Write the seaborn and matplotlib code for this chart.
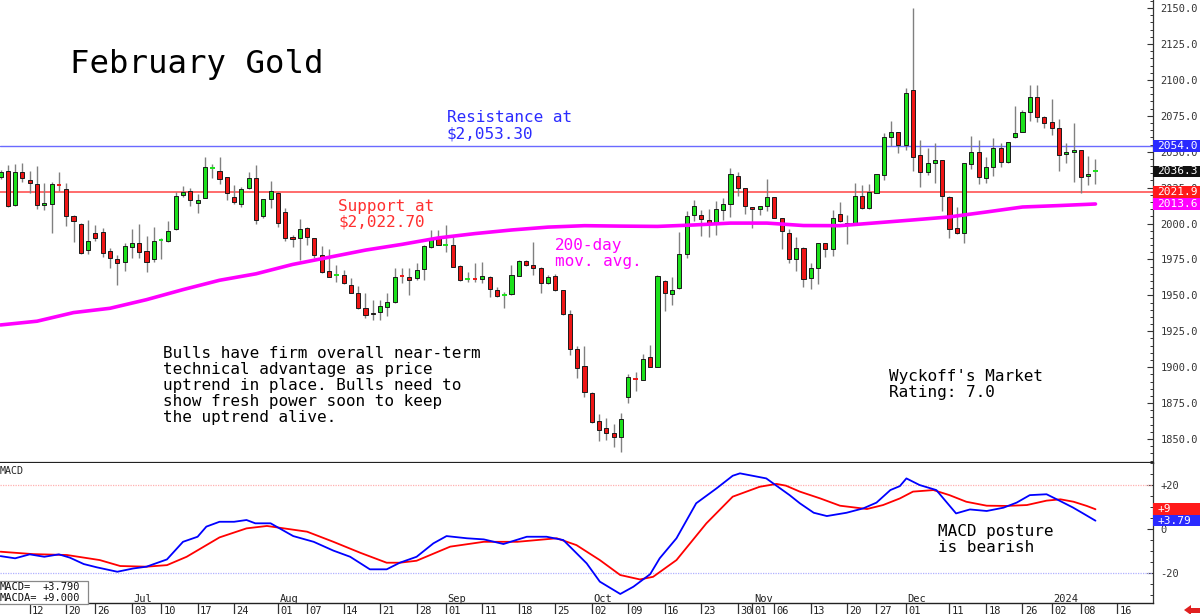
import numpy as np
import matplotlib
matplotlib.use("Agg")
import matplotlib.pyplot as plt
import matplotlib.transforms as mtransforms
from matplotlib.patches import Rectangle, Polygon
from matplotlib.ticker import MultipleLocator, FixedLocator
import seaborn as sns

# ---------------- data ----------------
opens = [2032.2, 2036.8, 2012.9, 2036.1, 2030.3, 2027.8, 2013.2, 2013.6, 2027.5, 2023.8,
         2005.5, 2000.0, 1981.6, 1993.7, 1994.4, 1980.9, 1975.1, 1973.5, 1983.9, 1986.2,
         1980.9, 1975.1, 1987.8, 1988.1, 1996.0, 2019.9, 2022.7, 2014.1, 2018.0, 2038.3,
         2036.8, 2032.2, 2018.7, 2013.6, 2024.5, 2031.5, 2005.5, 2017.4, 2021.5, 2007.8,
         1990.9, 1989.7, 1996.7, 1989.7, 1978.1, 1967.2, 1964.0, 1964.2, 1957.2, 1951.9,
         1941.4, 1938.0, 1938.2, 1942.1, 1945.2, 1963.8, 1963.0, 1961.9, 1968.1, 1983.9,
         1990.4, 1985.0, 1985.1, 1970.4, 1961.2, 1962.0, 1961.4, 1963.0, 1953.7, 1950.1,
         1950.9, 1963.7, 1973.9, 1971.1, 1969.3, 1958.4, 1963.7, 1953.7, 1937.1, 1912.5,
         1901.1, 1882.3, 1862.8, 1857.5, 1854.0, 1851.7, 1879.1, 1892.5, 1891.1, 1906.9,
         1900.4, 1960.3, 1950.7, 1954.9, 1978.6, 2005.9, 2006.0, 2002.5, 2000.1, 2009.4,
         2013.6, 2033.1, 2024.9, 2011.7, 2010.1, 2012.4, 2018.2, 2003.6, 1993.6, 1975.1,
         1983.2, 1962.3, 1968.8, 1986.2, 1982.3, 2006.4, 2000.6, 1999.0, 2019.1, 2010.6,
         2021.5, 2033.8, 2060.5, 2063.9, 2054.7, 2092.9, 2047.7, 2036.1, 2041.9, 2044.2,
         2018.7, 1996.7, 1993.6, 2041.4, 2050.0, 2031.5, 2039.6, 2052.3, 2043.1, 2060.0,
         2063.9, 2077.9, 2087.8, 2074.4, 2070.9, 2066.3, 2048.4, 2050.0, 2051.2, 2033.1,
         2035.9]
highs = [2037.0, 2040.8, 2041.2, 2042.4, 2036.8, 2040.3, 2028.0, 2028.7, 2035.7, 2028.0,
         2006.0, 2000.5, 2002.5, 1999.0, 1997.1, 1982.8, 1978.1, 1986.2, 1996.0, 1999.7,
         1991.3, 1997.4, 1989.7, 2001.8, 2022.2, 2026.1, 2025.0, 2020.3, 2046.1, 2041.5,
         2046.6, 2032.4, 2026.8, 2025.7, 2035.7, 2040.8, 2017.0, 2029.9, 2022.2, 2010.6,
         1992.0, 2002.9, 1997.8, 1990.0, 1984.4, 1982.0, 1971.1, 1967.7, 1961.9, 1956.5,
         1951.4, 1946.8, 1946.8, 1951.4, 1968.8, 1968.8, 1968.8, 1972.3, 1985.1, 1995.5,
         1995.5, 1999.0, 1990.9, 1971.0, 1966.0, 1972.3, 1973.0, 1963.5, 1956.1, 1952.6,
         1971.1, 1974.5, 1974.6, 1987.4, 1969.5, 1964.2, 1964.6, 1954.0, 1939.8, 1914.8,
         1914.8, 1882.5, 1867.2, 1864.4, 1860.5, 1867.9, 1895.3, 1896.9, 1909.2, 1915.5,
         1964.2, 1960.5, 1962.6, 1993.9, 2009.0, 2016.5, 2009.4, 2010.0, 2016.0, 2017.5,
         2038.4, 2036.1, 2025.0, 2011.7, 2012.5, 2030.7, 2018.5, 2004.0, 1996.0, 1990.4,
         1983.5, 1972.3, 1986.5, 1986.5, 2009.4, 2015.2, 2005.9, 2028.4, 2026.8, 2027.5,
         2034.5, 2062.8, 2071.6, 2064.0, 2094.1, 2150.0, 2058.1, 2052.3, 2056.3, 2044.5,
         2019.0, 2011.3, 2042.0, 2060.9, 2058.1, 2046.5, 2059.3, 2055.8, 2056.8, 2081.8,
         2079.0, 2096.4, 2096.4, 2074.8, 2086.4, 2072.5, 2056.3, 2069.7, 2051.5, 2047.0,
         2044.7]
lows = [2031.0, 2011.8, 2012.5, 2028.7, 2021.0, 2009.9, 2009.4, 1993.2, 2022.9, 1998.3,
        1987.0, 1979.0, 1978.6, 1988.0, 1977.0, 1968.8, 1957.2, 1967.2, 1976.3, 1976.3,
        1966.1, 1973.0, 1975.3, 1987.4, 1995.8, 2018.7, 2012.2, 2007.1, 2017.8, 2031.5,
        2027.3, 2016.4, 2013.6, 2011.8, 2024.0, 1999.7, 2004.1, 2010.6, 1997.4, 1988.1,
        1984.0, 1974.6, 1985.1, 1976.0, 1965.8, 1962.8, 1959.5, 1958.0, 1951.5, 1940.5,
        1934.0, 1932.9, 1932.9, 1935.6, 1945.0, 1958.4, 1950.3, 1960.7, 1960.7, 1982.7,
        1985.0, 1980.4, 1969.9, 1960.0, 1959.5, 1959.5, 1958.4, 1948.6, 1948.6, 1941.0,
        1950.3, 1963.5, 1970.5, 1964.2, 1951.4, 1958.0, 1953.0, 1936.4, 1908.5, 1892.3,
        1879.5, 1861.0, 1848.9, 1849.4, 1844.3, 1841.3, 1875.4, 1883.7, 1891.0, 1900.0,
        1900.0, 1939.4, 1943.3, 1954.6, 1975.8, 2002.0, 1991.6, 1990.9, 1992.0, 2002.4,
        2004.8, 2019.1, 2006.6, 1996.6, 2005.9, 2008.9, 2004.0, 1982.0, 1972.3, 1966.9,
        1955.6, 1954.2, 1957.9, 1976.9, 1977.6, 2001.3, 1985.7, 1999.0, 2009.9, 2009.9,
        2021.0, 2030.3, 2053.9, 2049.3, 2051.2, 2036.8, 2025.7, 2033.8, 2028.0, 2009.0,
        1989.7, 1993.0, 1986.2, 2037.7, 2027.5, 2028.0, 2033.1, 2039.1, 2041.9, 2059.3,
        2063.5, 2071.6, 2070.9, 2066.3, 2061.6, 2036.8, 2041.9, 2029.1, 2021.0, 2026.8,
        2027.5]
closes = [2035.7, 2012.5, 2036.1, 2031.7, 2028.0, 2012.9, 2014.3, 2027.3, 2027.0, 2005.5,
          2002.0, 1979.7, 1987.9, 1989.7, 1979.3, 1976.3, 1972.8, 1984.6, 1986.2, 1980.4,
          1973.5, 1987.6, 1988.2, 1994.8, 2019.2, 2022.2, 2016.4, 2016.4, 2039.6, 2038.6,
          2031.0, 2021.5, 2014.8, 2023.8, 2031.5, 2002.5, 2016.9, 2022.9, 2000.6, 1989.7,
          1989.0, 1996.0, 1990.4, 1978.1, 1966.5, 1963.0, 1964.3, 1958.4, 1951.9, 1941.0,
          1936.3, 1937.0, 1942.8, 1945.1, 1963.0, 1963.3, 1960.7, 1967.7, 1984.4, 1989.2,
          1985.1, 1985.3, 1970.0, 1960.7, 1961.5, 1961.6, 1963.7, 1954.2, 1949.8, 1950.5,
          1964.2, 1973.9, 1971.1, 1968.8, 1958.4, 1963.0, 1953.7, 1937.1, 1912.5, 1899.7,
          1882.5, 1862.1, 1856.3, 1854.0, 1851.7, 1863.7, 1893.0, 1892.1, 1905.5, 1900.4,
          1963.5, 1951.4, 1953.8, 1978.8, 2005.3, 2012.5, 2003.2, 2000.6, 2009.9, 2013.6,
          2034.5, 2024.9, 2012.2, 2010.1, 2012.4, 2018.7, 2004.1, 1995.0, 1975.1, 1983.2,
          1961.1, 1969.3, 1986.2, 1982.0, 2003.6, 2002.0, 1999.0, 2019.1, 2010.6, 2022.2,
          2034.2, 2060.5, 2063.9, 2054.7, 2090.6, 2046.5, 2036.1, 2041.9, 2044.2, 2019.2,
          1995.9, 1993.6, 2041.9, 2050.0, 2032.2, 2039.6, 2052.3, 2043.1, 2056.5, 2063.2,
          2077.9, 2087.8, 2073.9, 2070.2, 2066.3, 2047.7, 2050.0, 2051.2, 2032.6, 2034.5,
          2036.3]

# 200-day moving average, read at every 5th session
ma_x = [0, 5, 10, 15, 20, 25, 30, 35, 40, 45, 50, 55, 60, 65, 70, 75, 80, 85, 90, 95,
        100, 105, 110, 115, 120, 125, 130, 135, 140, 145, 150]
ma_y = [1929.4, 1932.0, 1938.0, 1941.0, 1947.0, 1954.0, 1960.5, 1965.0, 1971.5, 1976.5,
        1981.5, 1985.5, 1990.0, 1993.0, 1995.5, 1997.5, 1998.5, 1998.2, 1998.0, 1999.0,
        2000.3, 2000.3, 1998.6, 1998.5, 2000.5, 2002.5, 2004.6, 2008.0, 2011.5, 2012.5,
        2013.6]

# MACD (blue) and MACD average (red)
macd_x = [0, 2, 4, 6, 8, 9.5, 11.4, 13.2, 16, 18.2, 20, 22.8, 25, 27, 28.2, 30, 32, 33.7,
          34.9, 37, 40.1, 42.9, 45.6, 47.9, 50.6, 52.9, 54.7, 57, 59.3, 61.1, 63.9, 66.2,
          68.9, 72.1, 74.8, 77.1, 80.3, 82.1, 84.9, 86.7, 89, 90.3, 92.6, 95.3, 98.1,
          100.3, 101.3, 104.9, 108.1, 109.5, 111.4, 113.2, 115.9, 118.2, 120, 121.9, 123.2,
          124.1, 125.9, 128.2, 130.9, 132.8, 135.1, 137.4, 139.2, 141, 143.3, 144.7, 146.9,
          148.3, 150]
macd_y = [-12.3, -13.3, -11.5, -12.6, -11.5, -13.0, -15.9, -17.4, -19.4, -17.9, -17.1,
          -13.8, -5.8, -3.5, 1.1, 3.3, 3.3, 4.1, 2.6, 2.6, -3.2, -5.8, -9.8, -12.6, -18.3,
          -18.3, -15.3, -12.6, -6.5, -3.2, -4.2, -4.7, -6.8, -3.5, -3.5, -5.0, -15.6, -23.9,
          -29.5, -26.2, -20.5, -13.3, -4.2, 11.7, 18.5, 24.2, 25.3, 23.0, 15.4, 11.7, 7.4,
          5.9, 7.4, 9.4, 12.0, 17.7, 19.5, 23.0, 20.0, 17.7, 7.1, 8.9, 8.2, 9.7, 12.0, 15.4,
          15.8, 13.5, 9.8, 7.1, 3.79]
sig_x = [0, 4.5, 9.1, 13.6, 16.4, 20, 22.8, 25.5, 30, 33.7, 36.5, 42, 45.6, 49.3, 52.9,
         54.7, 57, 61.6, 66.2, 70.8, 76.2, 78.9, 82.1, 84.9, 87.6, 89.4, 92.6, 96.7, 100.3,
         104, 106.3, 107.6, 109.5, 112.3, 115, 118.7, 120.9, 123.2, 125, 127.8, 130, 132.3,
         135.1, 137.8, 140.6, 143.3, 145.2, 147, 148.8, 150]
sig_y = [-10.3, -11.4, -11.8, -14.1, -16.8, -17.1, -16.4, -12.6, -3.8, 0.3, 1.4, -1.2, -5.8,
         -10.8, -15.3, -15.3, -14.4, -8.0, -5.8, -5.8, -4.2, -7.3, -14.1, -20.9, -22.9,
         -21.7, -14.1, 2.6, 14.7, 19.2, 20.5, 19.7, 17.0, 13.9, 10.6, 9.1, 10.9, 13.9, 17.0,
         17.7, 15.4, 12.4, 10.6, 10.5, 10.9, 12.9, 13.5, 12.4, 10.5, 9.0]

day_ticks = [4, 9, 13, 18, 22, 27, 32, 38, 42, 47, 52, 57, 61, 66, 71, 76, 81, 86, 91, 96,
             101, 103, 106, 111, 116, 120, 124, 130, 135, 140, 144, 148, 153]
day_labels = ["12", "20", "26", "03", "10", "17", "24", "01", "07", "14", "21", "28", "01",
              "11", "18", "25", "02", "09", "16", "23", "30", "01", "06", "13", "20", "27",
              "01", "11", "18", "26", "02", "08", "16"]
month_ticks = [18, 38, 61, 81, 103, 124, 144]
month_labels = ["Jul", "Aug", "Sep", "Oct", "Nov", "Dec", "2024"]

price_ticks = [1850, 1875, 1900, 1925, 1950, 1975, 2000, 2025, 2050, 2075, 2100, 2125, 2150]
resistance = 2054.0
support = 2021.9
last_close = 2036.3
ma_last = 2013.6
macd_last = 3.79
macda_last = 9.0

# ---------------- style ----------------
sns.set_theme(style="white")
plt.rcParams["font.family"] = ["DejaVu Sans Mono", "DejaVu Sans"]

W, H = 1200, 614
fig = plt.figure(figsize=(W / 100, H / 100), dpi=100)
fig.patch.set_facecolor("white")


def fx(px):
    return px / W


def fy(py):
    return 1 - py / H


ax = fig.add_axes([0, fy(463), fx(1153), 463 / H])
ax2 = fig.add_axes([0, fy(603), fx(1153), 140 / H])

XL = (-0.07, 157.88)
for a in (ax, ax2):
    a.set_facecolor("white")
    a.set_xlim(*XL)
    a.grid(False)
ax.set_ylim(1833.3, 2155.6)
ax2.set_ylim(-33.6, 30.0)

# ---------------- candles ----------------
o = np.array(opens)
h = np.array(highs)
l = np.array(lows)
c = np.array(closes)
idx = np.arange(len(o))
up = c >= o
doji = np.abs(c - o) < 0.75
GREEN, RED = "#1be01b", "#ee1515"

ax.vlines(idx, l, h, color="#808080", lw=1.0, zorder=2)
bottom = np.minimum(o, c)
height = np.abs(c - o)
for mask, col in ((up & ~doji, GREEN), (~up & ~doji, RED)):
    ax.bar(idx[mask], height[mask], bottom=bottom[mask], width=0.56, color=col,
           edgecolor="#1a1a1a", linewidth=0.7, zorder=3)
for mask, col in ((up & doji, GREEN), (~up & doji, RED)):
    ax.hlines(c[mask], idx[mask] - 0.32, idx[mask] + 0.32, color=col, lw=1.4, zorder=3)

# support / resistance
ax.axhline(resistance, color="#6a6aff", lw=1.0, zorder=1)
ax.axhline(support, color="#ff6060", lw=1.3, zorder=1)

# moving average
sns.lineplot(x=ma_x, y=ma_y, ax=ax, color="#ff00ff", linewidth=2.6, zorder=4,
             estimator=None, sort=False)

# ---------------- MACD ----------------
ax2.axhline(20, color="#ffb0b0", lw=0.9, ls=(0, (1, 1)))
ax2.axhline(-20, color="#b0b0ff", lw=0.9, ls=(0, (1, 1)))
sns.lineplot(x=sig_x, y=sig_y, ax=ax2, color="#ff0000", linewidth=1.3,
             estimator=None, sort=False)
sns.lineplot(x=macd_x, y=macd_y, ax=ax2, color="#0000ff", linewidth=1.3,
             estimator=None, sort=False)

# ---------------- axes / ticks ----------------
for a in (ax, ax2):
    a.yaxis.tick_right()
    a.spines["left"].set_visible(False)
    a.spines["top"].set_visible(False)
    a.spines["right"].set_color("#333333")
    a.spines["right"].set_linewidth(0.9)
ax.spines["bottom"].set_color("#222222")
ax.spines["bottom"].set_linewidth(1.6)
ax2.spines["bottom"].set_color("#222222")
ax2.spines["bottom"].set_linewidth(1.0)

ax.set_xticks([])
ax.yaxis.set_major_locator(FixedLocator(price_ticks))
ax.set_yticklabels([f"{v:.1f}" for v in price_ticks])
ax.yaxis.set_minor_locator(MultipleLocator(5))
ax.tick_params(axis="y", which="major", direction="in", length=4, width=0.8,
               pad=5.5, labelsize=7.5, labelcolor="#333333", color="#333333")
ax.tick_params(axis="y", which="minor", direction="in", length=2.2, width=0.7,
               color="#333333")

ax2.yaxis.set_major_locator(FixedLocator([-20, 0, 20]))
ax2.set_yticklabels(["-20", "0", "+20"])
ax2.yaxis.set_minor_locator(MultipleLocator(5))
ax2.tick_params(axis="y", which="major", direction="in", length=4, width=0.8,
                pad=5.5, labelsize=7.5, labelcolor="#333333", color="#333333")
ax2.tick_params(axis="y", which="minor", direction="in", length=2.2, width=0.7,
                color="#333333")

ax2.set_xticks(day_ticks)
ax2.set_xticklabels([""] * len(day_ticks))
ax2.tick_params(axis="x", which="major", direction="out", length=8, width=0.9,
                color="#333333", bottom=True)

blend2 = mtransforms.blended_transform_factory(ax2.transData, fig.transFigure)
for t, lab in zip(day_ticks, day_labels):
    ax2.text(t + 0.32, fy(605.5), lab, transform=blend2, ha="left", va="top",
             fontsize=7.5, color="#222222", clip_on=False)
for t, lab in zip(month_ticks, month_labels):
    ax2.text(t + 0.2, fy(601.5), lab, transform=blend2, ha="left", va="baseline",
             fontsize=7.5, color="#222222", clip_on=False)

# ---------------- price tags ----------------
def tag(a, val, text, color, half):
    tr = mtransforms.blended_transform_factory(a.transAxes, a.transData)
    a.add_patch(Rectangle((1.0, val - half), 0.06, 2 * half, transform=tr,
                          facecolor=color, edgecolor="none", clip_on=False, zorder=9))
    a.text(1.004, val, text, transform=tr, color="white", fontsize=8, ha="left",
           va="center", clip_on=False, zorder=10)

tag(ax, resistance, f"{resistance:.1f}", "#2a2aff", 4.2)
tag(ax, last_close, f"{last_close:.1f}", "#111111", 4.0)
tag(ax, ma_last, f"{ma_last:.1f}", "#ff00ff", 4.2)
tag(ax, support, f"{support:.1f}", "#ff1a1a", 3.9)
tag(ax2, macda_last, f"+{macda_last:g}", "#ff1a1a", 2.7)
tag(ax2, macd_last, f"+{macd_last:.2f}", "#2a2aff", 2.6)

# ---------------- annotations ----------------
def lines(x, y0, pitch, text, color="black", size=11.5):
    for k, ln in enumerate(text.split("\n")):
        fig.text(fx(x), fy(y0 + k * pitch), ln, color=color, fontsize=size,
                 ha="left", va="baseline")

lines(70, 73, 0, "February Gold", size=23.3)
lines(447, 122.5, 16, "Resistance at\n$2,053.30", color="#2b2bff")
lines(338, 211, 15.5, "Support at\n$2,022.70", color="#ff3030")
lines(555, 249.5, 16, "200-day\nmov. avg.", color="#ff00ff")
lines(163, 358, 16.1, "Bulls have firm overall near-term\ntechnical advantage as price\n"
      "uptrend in place. Bulls need to\nshow fresh power soon to keep\nthe uptrend alive.")
lines(889, 381, 16, "Wyckoff's Market\nRating: 7.0")
lines(938, 536, 15.8, "MACD posture\nis bearish")

# MACD panel label and legend box
fig.text(fx(0), fy(474), "MACD", fontsize=7.2, ha="left", va="baseline", color="#222222")
fig.add_artist(Rectangle((fx(-1), fy(603.5)), fx(89), 23 / H, transform=fig.transFigure,
                         facecolor="white", edgecolor="#888888", lw=0.9, zorder=5))
for txt, xx, yy in (("MACD=", 0, 590.5), (f"{macd_last:+.3f}", 42.5, 590.5),
                    ("MACDA=", 0, 601), (f"{macda_last:+.3f}", 42.5, 601)):
    fig.text(fx(xx), fy(yy), txt, fontsize=7.5, ha="left", va="baseline",
             color="#111111", zorder=6)

# small red arrow at the bottom-right corner
fig.add_artist(Polygon([(fx(1184), fy(610)), (fx(1191), fy(605)), (fx(1191), fy(608)),
                        (fx(1200), fy(608)), (fx(1200), fy(613)), (fx(1191), fy(613)),
                        (fx(1191), fy(615))], closed=True, transform=fig.transFigure,
                       facecolor="#e02020", edgecolor="none"))

fig.savefig("out.png", dpi=100, facecolor="white")
